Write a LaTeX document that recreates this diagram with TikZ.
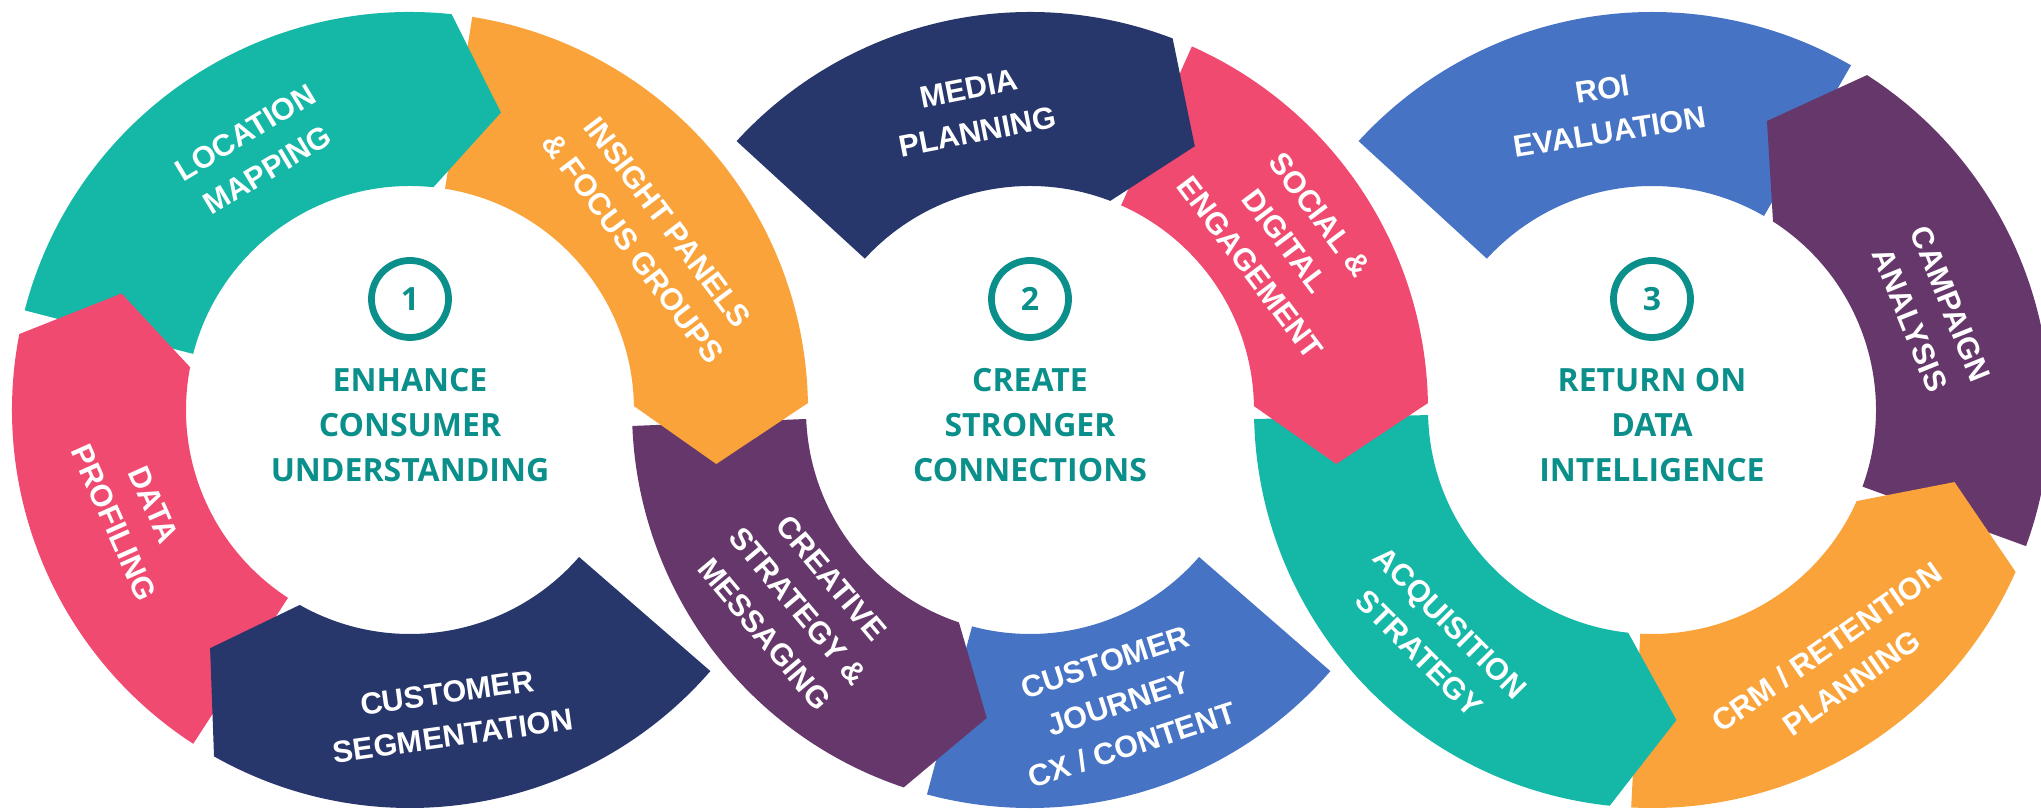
\documentclass[tikz,border=0pt]{standalone}
\usepackage{fontspec}
\setmainfont{Liberation Sans}
\newfontfamily\hubfont{Open Sans}

\definecolor{cteal}{HTML}{15B8A6}
\definecolor{corange}{HTML}{F9A33A}
\definecolor{cnavy}{HTML}{28376B}
\definecolor{cpink}{HTML}{F14A70}
\definecolor{cpurple}{HTML}{66376A}
\definecolor{cblue}{HTML}{4673C4}
\definecolor{hubteal}{HTML}{0B8F8A}

\begin{document}
\begin{tikzpicture}[x=0.01cm, y=0.01cm,
    tag/.style={text=white, align=center, font=\bfseries\fontsize{8.7}{12.4}\selectfont},
    hubtext/.style={text=hubteal, align=center, font=\hubfont\bfseries\fontsize{9.1}{12.8}\selectfont},
    hubnum/.style={circle, draw=hubteal, line width=1.93pt, inner sep=0pt, minimum size=0.77cm,
        text=hubteal, font=\hubfont\bfseries\fontsize{9.1}{11}\selectfont}]
    \useasboundingbox (0,0) rectangle (2041,812);
    % ring centres
    \coordinate (hub1) at (410,402);
    \coordinate (hub2) at (1030,402);
    \coordinate (hub3) at (1652,402);

    % Ring 3 (drawn first, ring 2 lies over it)
    \begin{scope}[shift={(hub3)}]
        % ROI evaluation: flat ends
        \fill[cblue] (137.5:398) arc[start angle=137.5, end angle=60, radius=398] -- (60:224) arc[start angle=60, end angle=137.5, radius=224] -- cycle;
        % campaign analysis
        \fill[cpurple] (-20:398) arc[start angle=-20, end angle=57.3, radius=398] -- (68.3:311) -- (57.3:224) arc[start angle=57.3, end angle=-20, radius=224] -- cycle;
        % CRM / retention
        \fill[corange] (267:398) arc[start angle=267, end angle=336, radius=398] -- (346.6:311) -- (336:224) arc[start angle=336, end angle=267, radius=224] -- cycle;
        % acquisition
        \fill[cteal] (181.3:398) arc[start angle=181.3, end angle=263.9, radius=398] -- (274.5:311) -- (263.9:224) arc[start angle=263.9, end angle=181.3, radius=224] -- cycle;
    \end{scope}

    % Ring 2
    \begin{scope}[shift={(hub2)}]
        % customer journey: flat ends
        \fill[cblue] (255:398) arc[start angle=255, end angle=319, radius=398] -- (319:224) arc[start angle=319, end angle=255, radius=224] -- cycle;
        % creative strategy
        \fill[cpurple] (182.3:398) arc[start angle=182.3, end angle=251.5, radius=398] -- (262:311) -- (251.5:224) arc[start angle=251.5, end angle=182.3, radius=224] -- cycle;
        % social & digital
        \fill[cpink] (66:398) arc[start angle=66, end angle=1, radius=398] -- (-10:311) -- (1:224) arc[start angle=1, end angle=66, radius=224] -- cycle;
        % media planning
        \fill[cnavy] (137.5:398) arc[start angle=137.5, end angle=69, radius=398] -- (58:311) -- (69:224) arc[start angle=69, end angle=137.5, radius=224] -- cycle;
    \end{scope}

    % Ring 1
    \begin{scope}[shift={(hub1)}]
        % insight panels
        \fill[corange] (81:398) arc[start angle=81, end angle=1, radius=398] -- (-10:311) -- (1:224) arc[start angle=1, end angle=81, radius=224] -- cycle;
        % location mapping
        \fill[cteal] (165.5:398) arc[start angle=165.5, end angle=84, radius=398] -- (73:311) -- (84:224) arc[start angle=84, end angle=165.5, radius=224] -- cycle;
        % data profiling
        \fill[cpink] (237:398) arc[start angle=237, end angle=169, radius=398] -- (158:311) -- (169:224) arc[start angle=169, end angle=237, radius=224] -- cycle;
        % customer segmentation
        \fill[cnavy] (319:398) arc[start angle=319, end angle=240.5, radius=398] -- (230:311) -- (240.5:224) arc[start angle=240.5, end angle=319, radius=224] -- cycle;
    \end{scope}

    % Labels, ring 1
    \begin{scope}[shift={(hub1)}]
        \node[tag, rotate=31] (locmap) at (120.7:301) {LOCATION\\MAPPING};
        \node[tag, rotate=-53] (insight) at (36:297) {INSIGHT PANELS\\\& FOCUS GROUPS};
        \node[tag, rotate=-66] (profiling) at (200.6:295) {DATA\\PROFILING};
        \node[tag, rotate=8] (segment) at (277.5:307) {CUSTOMER\\SEGMENTATION};
        \node[hubnum] (num1) at (0,111) {1};
        \node[hubtext] (aim1) at (0,-15) {ENHANCE\\CONSUMER\\UNDERSTANDING};
    \end{scope}

    % Labels, ring 2
    \begin{scope}[shift={(hub2)}]
        \node[tag, rotate=11] (media) at (100.7:305) {MEDIA\\PLANNING};
        \node[tag, rotate=-53] (social) at (33.5:306) {SOCIAL \&\\DIGITAL\\ENGAGEMENT};
        \node[tag, rotate=-50] (creative) at (220.2:304) {CREATIVE\\STRATEGY \&\\MESSAGING};
        \node[tag, rotate=18] (journey) at (286.8:307) {CUSTOMER\\JOURNEY\\CX / CONTENT};
        \node[hubnum] (num2) at (0,111) {2};
        \node[hubtext] (aim2) at (0,-15) {CREATE\\STRONGER\\CONNECTIONS};
    \end{scope}

    % Labels, ring 3
    \begin{scope}[shift={(hub3)}]
        \node[tag, rotate=9] (roi) at (98.7:303) {ROI\\EVALUATION};
        \node[tag, rotate=-68] (campaign) at (19.4:295) {CAMPAIGN\\ANALYSIS};
        \node[tag, rotate=35] (crm) at (306.3:316) {CRM / RETENTION\\PLANNING};
        \node[tag, rotate=-45] (acquire) at (226.4:315) {ACQUISITION\\STRATEGY};
        \node[hubnum] (num3) at (0,111) {3};
        \node[hubtext] (aim3) at (0,-15) {RETURN ON\\DATA\\INTELLIGENCE};
    \end{scope}
\end{tikzpicture}
\end{document}
